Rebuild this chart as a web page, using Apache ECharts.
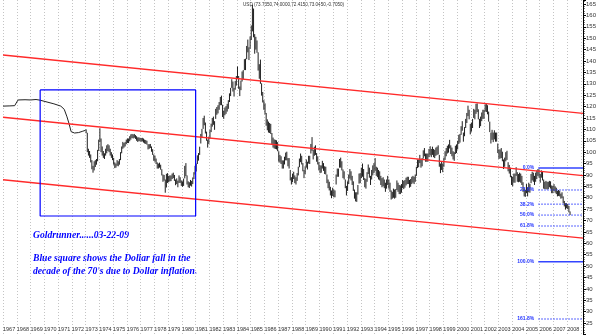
<!DOCTYPE html>
<html><head><meta charset="utf-8">
<script src="https://cdn.jsdelivr.net/npm/echarts@6/dist/echarts.min.js"></script>
<style>html,body{margin:0;padding:0;background:#fff}#c{width:600px;height:335px}</style>
</head><body><div id="c"></div>
<script>
// Axis ranges (years on x, index points on y)
const X_MIN = 1967, X_MAX = 2009.15;
const Y_MIN = 20, Y_MAX = 166.76;

// Fixed-rate era, drawn as a plain line
const earlyYears  = [1967.0, 1967.5, 1967.85, 1968.0, 1968.1, 1968.6, 1969.0, 1969.4, 1969.7, 1970.2, 1970.7, 1971.2, 1971.45, 1971.65, 1971.8, 1971.95, 1972.2, 1972.5, 1972.8, 1973.0];
const earlyValues = [120.2, 120.3, 120.4, 122.0, 122.9, 123.0, 122.9, 123.1, 122.8, 122.0, 121.2, 120.2, 118.8, 115.5, 112.5, 109.0, 108.4, 108.6, 109.2, 109.6];

// Monthly high / low bars, Jan 1973 - Mar 2008 (one row per year)
const barStartYear = 1973;
const barHigh = [
  110.0,108.5,101.5,100.5,99.0,96.5,94.0,96.0,96.5,97.0,101.0,105.5,
  110.5,106.0,102.5,100.5,99.5,101.5,103.0,103.5,103.0,101.5,100.0,99.0,
  97.5,95.5,95.0,96.5,96.0,97.0,100.0,102.5,104.5,104.0,104.5,105.5,
  106.0,106.0,107.0,107.8,108.0,107.8,108.0,107.5,107.0,106.5,106.5,106.3,
  106.2,106.3,106.0,105.5,105.3,105.0,103.5,103.5,103.6,102.5,101.3,99.0,
  98.5,97.2,95.5,95.0,95.4,94.5,92.5,90.2,90.0,88.0,90.5,90.8,
  89.6,89.8,89.8,90.6,91.0,90.0,88.0,88.5,87.5,89.8,89.0,87.6,
  87.2,88.4,94.0,95.2,89.8,87.2,86.8,87.8,87.4,88.9,91.2,94.0,
  95.0,98.6,99.6,102.4,108.0,110.2,115.0,116.0,113.0,109.0,105.5,106.8,
  109.8,112.5,115.0,115.6,113.6,119.0,119.8,120.6,122.0,124.2,124.8,120.8,
  118.2,119.6,120.2,121.2,122.8,125.8,128.2,132.0,131.0,128.2,131.2,133.4,
  137.6,133.4,128.8,131.4,135.4,136.0,140.8,141.0,146.6,149.4,146.0,150.8,
  155.6,164.7,163.0,151.8,150.6,149.0,143.8,138.6,140.6,130.2,126.4,122.8,
  121.4,117.2,114.4,113.4,112.8,112.4,108.4,106.4,105.6,105.4,105.2,104.4,
  100.4,98.8,98.2,96.4,96.4,98.0,99.8,100.2,97.4,97.4,92.2,89.0,
  90.6,91.4,89.8,89.0,90.8,93.6,97.2,99.4,98.4,95.2,92.2,93.8,
  96.8,95.8,98.4,98.4,103.6,106.6,101.0,102.4,103.0,99.6,98.2,95.6,
  94.2,94.2,96.2,95.2,93.8,93.6,90.2,88.0,87.0,84.8,83.2,84.4,
  83.6,83.2,90.2,92.8,92.8,97.0,97.6,96.0,92.4,91.6,88.0,85.2,
  87.2,90.2,92.6,91.6,89.6,87.2,83.6,82.4,82.4,85.6,90.6,90.8,
  93.2,95.0,92.6,88.6,88.2,91.2,94.6,93.2,89.6,92.2,94.2,95.2,
  97.4,93.6,93.2,92.2,91.6,89.6,88.6,89.0,88.0,86.6,88.0,89.6,
  88.0,86.6,83.2,82.6,84.0,83.6,83.8,87.6,86.6,85.6,85.4,86.0,
  87.8,87.4,87.8,88.8,89.2,89.2,87.8,88.2,89.2,89.6,89.2,90.2,
  93.6,96.8,96.8,98.8,97.0,97.4,100.8,101.8,99.4,99.4,99.4,101.4,
  102.6,101.4,102.4,101.4,101.0,102.0,102.4,103.0,98.8,95.0,96.0,95.0,
  97.6,100.4,101.8,102.8,103.4,105.4,103.0,102.0,100.4,100.0,102.8,103.4,
  105.0,107.6,108.0,111.4,113.6,108.6,111.0,114.6,117.2,120.4,118.6,112.4,
  113.0,114.6,119.0,118.6,121.2,121.4,118.8,114.6,115.6,117.4,118.6,118.6,
  121.0,121.4,120.6,117.8,113.4,108.6,109.8,108.6,109.6,108.6,108.6,103.8,
  101.2,101.2,101.8,100.2,96.8,97.6,100.0,100.6,95.6,94.4,93.2,89.6,
  89.2,90.6,90.6,93.4,91.2,90.4,91.0,90.6,89.6,86.8,84.0,83.4,
  86.0,84.6,86.6,86.0,90.4,91.4,91.0,89.6,91.0,92.0,92.6,92.4,
  90.4,92.0,91.4,88.0,87.0,87.4,87.0,87.0,87.4,87.2,85.4,85.2,
  86.0,85.0,84.4,83.0,83.4,83.0,81.8,82.4,80.6,78.6,77.6,77.6,
  77.2,76.4,74.0
];
const barLow = [
  108.3,100.0,98.5,97.5,95.5,92.5,91.0,92.0,93.5,94.5,96.0,100.5,
  104.5,100.0,98.5,97.5,97.0,98.5,99.5,100.5,100.0,98.5,97.5,96.5,
  94.5,93.0,93.2,94.0,93.8,94.5,96.5,99.5,101.5,102.0,102.5,103.5,
  104.0,104.0,104.8,105.5,106.2,106.0,106.3,105.8,105.0,104.5,104.8,104.8,
  104.6,104.7,104.2,103.8,103.6,103.3,101.2,101.5,101.8,100.2,98.8,96.2,
  95.8,94.8,92.8,92.8,93.2,92.3,89.8,87.0,87.5,82.2,84.5,86.5,
  86.8,87.2,87.3,88.2,88.6,87.4,85.5,86.0,84.6,86.5,86.5,85.2,
  84.8,85.2,88.5,89.5,85.8,84.6,84.3,85.3,84.9,86.0,88.2,90.2,
  91.5,94.8,96.3,98.8,103.8,106.2,110.2,111.8,108.2,105.0,102.0,103.6,
  106.0,108.8,111.2,112.0,109.8,114.6,116.4,117.0,118.6,120.6,120.6,115.4,
  114.6,116.2,116.8,117.8,119.0,122.0,124.6,128.2,126.6,124.4,127.4,129.2,
  132.4,127.8,124.6,127.2,131.0,132.0,136.0,136.0,140.8,143.8,140.4,145.4,
  149.2,153.0,150.4,143.2,145.0,143.6,135.8,132.2,130.0,124.8,121.8,118.6,
  116.6,111.6,109.6,108.6,108.4,108.0,103.6,102.0,101.6,101.4,101.2,100.4,
  95.8,95.4,94.8,92.8,92.8,94.6,96.4,96.4,93.8,92.8,87.6,85.8,
  86.8,88.2,86.4,85.8,87.4,89.8,93.4,95.6,94.6,91.6,88.6,90.4,
  93.2,92.4,95.0,94.8,99.4,100.6,96.8,98.4,98.8,95.8,94.6,92.0,
  90.8,91.0,92.8,91.8,90.4,90.2,86.4,84.2,83.2,81.0,79.8,80.8,
  80.2,80.2,85.8,89.2,89.2,93.2,93.2,92.0,88.6,88.0,84.2,81.0,
  83.0,86.0,88.4,87.6,85.6,83.0,79.6,78.4,78.2,81.4,86.2,86.4,
  88.6,89.2,87.8,84.6,84.0,87.0,90.4,88.8,85.6,88.0,89.8,90.8,
  91.8,89.6,89.0,88.0,87.6,85.6,84.6,85.0,84.2,82.6,84.0,85.6,
  84.0,82.6,79.2,79.6,80.0,79.6,80.0,83.4,82.6,81.6,81.6,82.2,
  84.2,83.8,84.4,85.4,86.0,86.0,84.4,84.8,86.0,86.6,86.0,87.0,
  89.6,93.0,93.4,95.2,93.2,93.8,97.2,98.2,95.8,95.8,95.8,97.8,
  98.6,97.8,98.8,97.8,97.4,98.4,98.8,99.0,93.6,90.8,92.2,91.2,
  93.6,96.6,98.2,99.4,99.8,101.6,99.2,98.2,96.8,96.2,99.2,99.6,
  101.2,103.6,104.2,107.6,109.4,104.6,107.0,110.6,112.8,115.8,114.4,107.8,
  109.0,110.6,115.0,114.4,116.8,117.6,114.4,110.6,111.4,113.6,114.6,114.6,
  117.8,117.6,116.6,113.4,108.8,103.8,105.4,104.4,105.6,104.6,104.6,99.6,
  97.0,97.2,97.4,96.0,92.6,93.6,96.0,96.6,91.6,90.6,89.0,85.6,
  85.0,86.6,86.6,89.6,87.0,86.8,87.0,86.6,85.6,82.6,80.6,80.4,
  82.0,80.6,82.4,82.2,86.4,87.6,87.0,85.6,87.0,88.2,89.6,88.8,
  86.6,88.8,87.6,84.0,83.8,83.8,83.6,83.8,84.6,84.0,82.0,82.0,
  83.0,82.2,81.6,80.6,80.8,80.6,79.6,79.8,77.6,76.2,74.8,75.4,
  75.0,73.6,72.4
];

// Falling trend channel (start / end of each line)
const channelYears  = [1967, 2009.15];
const channelUpper  = [142.6, 117.0];
const channelMiddle = [115.3, 89.7];
const channelLower  = [87.9, 62.3];

// Box around the 1970s decline
const boxYears  = [1969.7, 1981.0];
const boxValues = [127.3, 72.0];

// Fibonacci levels on the right
const fibLabels = ['0.0%', '23.6%', '38.2%', '50.0%', '61.8%', '100.0%', '161.8%'];
const fibValues = [93.1, 83.4, 77.2, 72.4, 67.6, 51.9, 26.8];
const fibSolid  = [true, false, false, false, false, true, false];
const fibStartYear = 2005.9;
const fibLabelYear = 2005.6;

const titleText = 'USD (73.7350,74.0000,72.4150,73.0450,-0.7050)';
const noteLines = [
  'Goldrunner......03-22-09',
  'Blue square shows the Dollar fall in the',
  'decade of the 70\'s due to Dollar inflation.'
];

const chart = echarts.init(document.getElementById('c'), null, {renderer: 'canvas'});

const barData = barHigh.map((h, i) => [barStartYear + (i + 0.5) / 12, h, barLow[i]]);
const line2 = (xs, ys) => xs.map((x, i) => [x, ys[i]]);

const series = [
  {
    type: 'line', data: line2(earlyYears, earlyValues), showSymbol: false,
    lineStyle: {color: '#222', width: 1}, z: 3, silent: true
  },
  {
    type: 'custom', data: barData, encode: {x: 0, y: [1, 2]}, z: 3, silent: true,
    renderItem: (params, api) => {
      const t = api.value(0);
      const p1 = api.coord([t, api.value(1)]);
      const p2 = api.coord([t, api.value(2)]);
      return {type: 'line', shape: {x1: p1[0], y1: p1[1], x2: p2[0], y2: p2[1]},
              style: {stroke: '#1e1e1e', lineWidth: 1}};
    }
  }
];

[channelUpper, channelMiddle, channelLower].forEach(vals => {
  series.push({type: 'line', data: line2(channelYears, vals), showSymbol: false, silent: true,
    lineStyle: {color: '#ff2a2a', width: 1.4}, z: 4});
});

series.push({
  type: 'line', showSymbol: false, silent: true, z: 5,
  data: [[boxYears[0], boxValues[0]], [boxYears[1], boxValues[0]], [boxYears[1], boxValues[1]],
         [boxYears[0], boxValues[1]], [boxYears[0], boxValues[0]]],
  lineStyle: {color: '#0000ff', width: 1.2}
});

fibValues.forEach((v, i) => {
  series.push({
    type: 'line', showSymbol: false, silent: true, z: 5,
    data: [[fibStartYear, v], [X_MAX, v]],
    lineStyle: fibSolid[i] ? {color: '#3344ff', width: 1.5, type: 'solid'}
                           : {color: '#2233ff', width: 1, type: [1.5, 1.5]}
  });
});

series.push({
  type: 'custom', silent: true, z: 6,
  data: fibValues.map((v, i) => [fibLabelYear, v, i]),
  encode: {x: 0, y: 1},
  renderItem: (params, api) => {
    const p = api.coord([api.value(0), api.value(1)]);
    return {type: 'text', x: p[0], y: p[1],
      style: {text: fibLabels[api.value(2)], fill: '#2233ff', font: 'bold 5px "Liberation Sans"',
              align: 'right', verticalAlign: 'middle'}};
  }
});

chart.setOption({
  animation: false,
  backgroundColor: '#fff',
  grid: {left: 0, right: 17, top: 0, bottom: 0.5},
  xAxis: {
    type: 'value', min: X_MIN, max: X_MAX, interval: 1,
    axisLine: {show: false},
    axisTick: {show: false},
    axisLabel: {
      inside: true, align: 'left', margin: 2, fontSize: 5.5, color: '#333',
      fontFamily: 'Liberation Sans', showMaxLabel: false,
      formatter: v => (v <= 2008 ? String(v) : '')
    },
    splitLine: {show: true, lineStyle: {color: '#c4c4c4', type: [1, 2], width: 1}}
  },
  yAxis: {
    type: 'value', position: 'right', min: Y_MIN, max: Y_MAX, interval: 5,
    axisLine: {show: true, lineStyle: {color: '#000', width: 1}},
    axisTick: {show: true, length: 3, lineStyle: {color: '#000'}},
    minorTick: {show: true, splitNumber: 5, length: 1.5, lineStyle: {color: '#000'}},
    axisLabel: {fontSize: 6, color: '#333', margin: 3, fontFamily: 'Liberation Sans',
                showMinLabel: false, showMaxLabel: false},
    splitLine: {show: false}
  },
  graphic: [
    {type: 'text', left: 243, top: 2, style: {text: titleText, font: '4.6px "Liberation Sans"', fill: '#333'}},
    {type: 'text', left: 33, top: 231, style: {text: noteLines[0], font: 'italic bold 9.6px "Liberation Serif"', fill: '#0000ff'}},
    {type: 'text', left: 33, top: 254, style: {text: noteLines[1], font: 'italic bold 9.6px "Liberation Serif"', fill: '#0000ff'}},
    {type: 'text', left: 33, top: 267, style: {text: noteLines[2], font: 'italic bold 9.6px "Liberation Serif"', fill: '#0000ff'}}
  ],
  series: series
});
</script>
</body></html>
